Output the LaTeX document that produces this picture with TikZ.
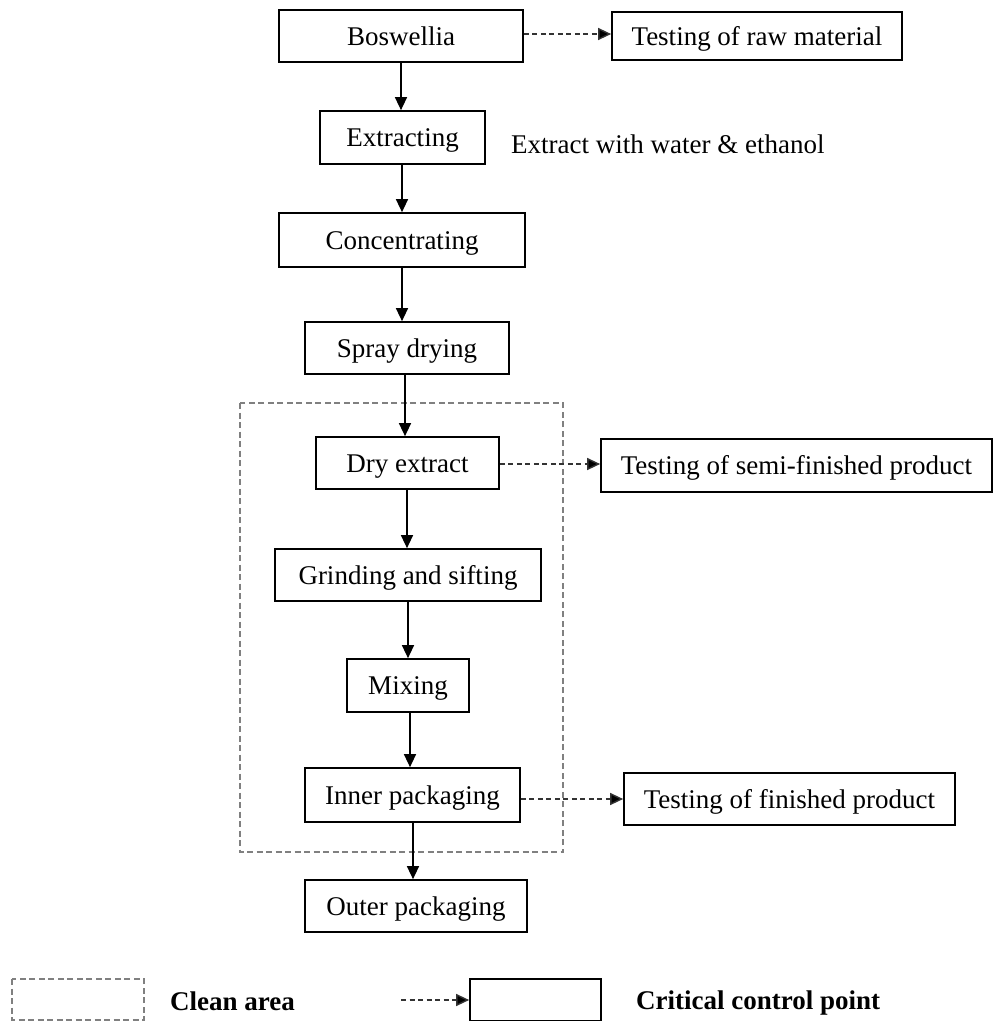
\documentclass[tikz,border=0pt]{standalone}
\usepackage{fontspec}
\setmainfont{Liberation Serif}
\usetikzlibrary{arrows.meta}
\definecolor{dashgray}{HTML}{333333}
\definecolor{areagray}{HTML}{808080}
\tikzset{
  stepbox/.style={draw=black, line width=1.7pt, fill=white, inner sep=0pt, text height=20pt, text depth=2pt, font=\fontsize{27}{30}\selectfont},
  flow/.style={draw=black, line width=1.4pt, -{Triangle[length=13pt,width=12pt]}},
  ctrl/.style={draw=dashgray, line width=1.4pt, dash pattern=on 5pt off 3.5pt, -{Triangle[length=13pt,width=12pt,fill=black]}},
  area/.style={draw=areagray, line width=1.5pt, dash pattern=on 6pt off 3.5pt},
  plain/.style={inner sep=0pt, font=\fontsize{27}{30}\selectfont},
}
\begin{document}
\begin{tikzpicture}[x=1pt,y=-1pt]
\useasboundingbox (0,0) rectangle (993,1021);
% clean area
\draw[area] (240,403) rectangle (563,852);
% nodes
\node[stepbox, minimum width=244pt, minimum height=52pt] (bos) at (401,36) {Boswellia};
\node[stepbox, minimum width=290pt, minimum height=48pt] (traw) at (757,36) {Testing of raw material};
\node[stepbox, minimum width=165pt, minimum height=53pt] (ext) at (402.5,137.5) {Extracting};
\node[plain, anchor=west] (note) at (511,144) {Extract with water \& ethanol};
\node[stepbox, minimum width=246pt, minimum height=54pt] (conc) at (402,240) {Concentrating};
\node[stepbox, minimum width=204pt, minimum height=52pt] (spray) at (407,348) {Spray drying};
\node[stepbox, minimum width=183pt, minimum height=52pt] (dry) at (407.5,463) {Dry extract};
\node[stepbox, minimum width=391pt, minimum height=53pt] (tsemi) at (796.5,465.5) {Testing of semi-finished product};
\node[stepbox, minimum width=266pt, minimum height=52pt] (grind) at (408,575) {Grinding and sifting};
\node[stepbox, minimum width=122pt, minimum height=53pt] (mix) at (408,685.5) {Mixing};
\node[stepbox, minimum width=215pt, minimum height=54pt] (inner) at (412.5,795) {Inner packaging};
\node[stepbox, minimum width=331pt, minimum height=52pt] (tfin) at (789.5,799) {Testing of finished product};
\node[stepbox, minimum width=222pt, minimum height=52pt] (outer) at (416,906) {Outer packaging};
% flow arrows
\draw[flow] (bos.south -| 401,0) -- (401,0 |- ext.north);
\draw[flow] (ext.south -| 402,0) -- (402,0 |- conc.north);
\draw[flow] (conc.south -| 402,0) -- (402,0 |- spray.north);
\draw[flow] (spray.south -| 405,0) -- (405,0 |- dry.north);
\draw[flow] (dry.south -| 407,0) -- (407,0 |- grind.north);
\draw[flow] (grind.south -| 408,0) -- (408,0 |- mix.north);
\draw[flow] (mix.south -| 410,0) -- (410,0 |- inner.north);
\draw[flow] (inner.south -| 413,0) -- (413,0 |- outer.north);
% control arrows
\draw[ctrl] (bos.east |- 0,34) -- (traw.west |- 0,34);
\draw[ctrl] (dry.east |- 0,464) -- (tsemi.west |- 0,464);
\draw[ctrl] (inner.east |- 0,799) -- (tfin.west |- 0,799);
% legend
\draw[area] (12,979) rectangle (144,1020);
\node[plain, anchor=west, font=\fontsize{27}{30}\selectfont\bfseries] (lclean) at (170,1001) {Clean area};
\coordinate (larr) at (401,1000);
\node[stepbox, minimum width=131pt, minimum height=42pt] (lbox) at (535.5,1000) {};
\draw[ctrl] (larr) -- (lbox.west |- larr);
\node[plain, anchor=west, font=\fontsize{27}{30}\selectfont\bfseries] (lccp) at (636,1003) {Critical control point};
\end{tikzpicture}
\end{document}
